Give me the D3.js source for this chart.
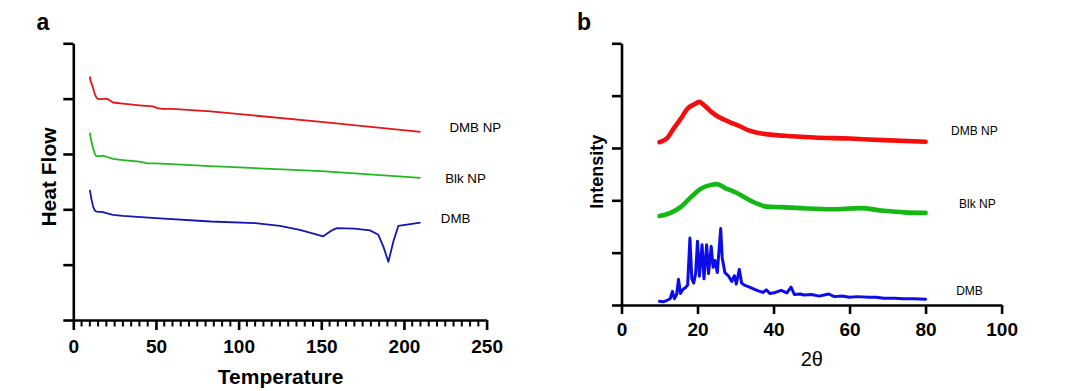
<!DOCTYPE html>
<html><head><meta charset="utf-8">
<script src="https://cdn.jsdelivr.net/npm/d3@7"></script>
<style>
body{margin:0;background:#fff;}
svg{display:block;}
text{font-family:"Liberation Sans",Arial,sans-serif;}
</style></head>
<body>
<svg id="c" width="1079" height="391"></svg>
<script>
// ---------- DATA ----------
// Panel a: DSC (Temperature, Heat Flow arbitrary units)
const dscSeries = ["DMB NP", "Blk NP", "DMB"];
const dscDMBNP = [[10,4.40],[10.5,4.31],[11,4.28],[12,4.19],[13,4.08],[14,4.02],[15,3.99],[17,3.99],[19,4.0],[21,3.99],[24,3.93],[30,3.91],[40,3.88],[48,3.86],[51,3.83],[54,3.815],[60,3.815],[83,3.77],[150,3.58],[210,3.40]];
const dscBlkNP = [[10,3.38],[11,3.22],[12,3.10],[13,3.0],[14,2.96],[16,2.96],[18,2.97],[20,2.95],[24,2.91],[30,2.89],[40,2.86],[45,2.83],[50,2.83],[83,2.78],[150,2.69],[210,2.57]];
const dscDMB = [[10,2.35],[11,2.18],[12,2.05],[13,1.98],[14,1.96],[16,1.955],[18,1.95],[20,1.93],[24,1.90],[30,1.88],[50,1.84],[83,1.78],[110,1.75],[125,1.70],[137,1.63],[148,1.54],[151,1.51],[154,1.57],[157,1.63],[159.5,1.66],[170,1.65],[179.5,1.62],[184.5,1.54],[187.5,1.33],[190.6,1.05],[193.6,1.42],[196.6,1.70],[210,1.76]];
const dscXTicks = [0,50,100,150,200,250];
const dscXMinorTicks = [5,10,15,20,25,30,35,40,45,55,60,65,70,75,80,85,90,95,105,110,115,120,125,130,135,140,145,155,160,165,170,175,180,185,190,195,205,210,215,220,225,230,235,240,245];
const dscYTicks = [0,1,2,3,4,5];

// Panel b: XRD (2theta, Intensity arbitrary units)
const xrdDMBNP = [[10,3.11],[12,3.19],[13.8,3.38],[15.7,3.57],[17.5,3.76],[19.3,3.84],[20.4,3.88],[22,3.80],[23.8,3.68],[25.6,3.59],[28.3,3.50],[31,3.42],[33.7,3.33],[36.4,3.28],[40,3.25],[43.6,3.23],[50.8,3.20],[60,3.18],[69,3.15],[80,3.12]];
const xrdBlkNP = [[10,1.70],[12.9,1.76],[15.7,1.88],[18.4,2.07],[21.1,2.23],[23.3,2.29],[25.1,2.31],[27.4,2.23],[30.1,2.15],[32.8,2.04],[35.5,1.94],[38.2,1.88],[41.8,1.87],[47.3,1.85],[55.4,1.83],[62.6,1.85],[69,1.80],[74.4,1.77],[80,1.76]];
const xrdDMB = [[10,0.07],[11,0.06],[12,0.09],[12.8,0.12],[13.4,0.26],[13.9,0.12],[14.5,0.2],[15.0,0.49],[15.5,0.22],[16.2,0.3],[16.8,0.33],[17.4,0.38],[18.0,1.28],[18.5,0.5],[19.0,0.42],[19.5,0.6],[20.0,1.22],[20.5,0.55],[21.2,1.15],[21.7,0.5],[22.4,1.15],[22.9,0.6],[23.6,1.12],[24.1,0.72],[24.6,0.85],[25.2,0.62],[26.1,1.46],[26.5,0.9],[27.2,0.62],[28.2,0.55],[29.0,0.45],[29.7,0.56],[30.2,0.40],[31.0,0.68],[31.6,0.42],[32.3,0.38],[33,0.36],[34,0.33],[35,0.3],[36,0.27],[37.2,0.24],[38.1,0.29],[39,0.22],[40.5,0.24],[42,0.28],[43.5,0.23],[44.6,0.34],[45.5,0.2],[47,0.21],[48,0.19],[50,0.2],[52,0.17],[54.5,0.21],[56,0.16],[58,0.17],[60,0.15],[62,0.16],[65,0.15],[67,0.15],[69,0.13],[72,0.13],[74,0.12],[77,0.12],[80,0.11]];
const xrdXTicks = [0,20,40,60,80,100];
const xrdYTicks = [0,1,2,3,4,5];

// ---------- DRAW ----------
const svg = d3.select("#c");
const AX = 2.6;

function styleAxis(g){
  g.select(".domain").attr("stroke","#000").attr("stroke-width",AX);
  g.selectAll(".tick line").attr("stroke","#000").attr("stroke-width",AX);
  g.selectAll(".tick text").attr("fill","#000").attr("font-weight","bold")
    .attr("font-family","'Liberation Sans',Arial,sans-serif");
}

// Panel a
const xa = d3.scaleLinear().domain([0,250]).range([73.3,486.6]);
const ya = d3.scaleLinear().domain([0,5]).range([320,43.3]);
const ga = svg.append("g");
ga.selectAll("line.minor").data(dscXMinorTicks).join("line").attr("class","minor")
  .attr("x1",d=>xa(d)).attr("x2",d=>xa(d)).attr("y1",320).attr("y2",326.5)
  .attr("stroke","#000").attr("stroke-width",2);
ga.append("g").attr("transform","translate(0,320)")
  .call(d3.axisBottom(xa).tickValues(dscXTicks).tickSize(10).tickSizeOuter(0).tickPadding(10))
  .call(styleAxis).call(g=>g.selectAll(".tick text").attr("font-size",19));
ga.append("g").attr("transform","translate(73.3,0)")
  .call(d3.axisLeft(ya).tickValues(dscYTicks).tickSize(10).tickSizeOuter(0).tickFormat(""))
  .call(styleAxis);

const linea = d3.line().x(d=>xa(d[0])).y(d=>ya(d[1]));
[[dscDMBNP,"#e3161b"],[dscBlkNP,"#22b822"],[dscDMB,"#1616b0"]].forEach(([d,c])=>{
  ga.append("path").datum(d).attr("d",linea).attr("fill","none").attr("stroke",c)
    .attr("stroke-width",1.8).attr("stroke-linejoin","round");
});
const labA = [[449.4,127.7],[445.2,178],[440.8,218]];
dscSeries.forEach((s,i)=>{
  ga.append("text").attr("x",labA[i][0]).attr("y",labA[i][1]).attr("dy","0.35em")
    .attr("font-size",13.3).text(s);
});
ga.append("text").attr("x",280.6).attr("y",383.5).attr("text-anchor","middle")
  .attr("font-size",21).attr("font-weight","bold").text("Temperature");
ga.append("text").attr("transform","translate(48.2,177) rotate(-90)").attr("dy","0.36em")
  .attr("text-anchor","middle").attr("font-size",21).attr("font-weight","bold").text("Heat Flow");
ga.append("text").attr("x",36.5).attr("y",30).attr("font-size",23).attr("font-weight","bold").text("a");

// Panel b
const xb = d3.scaleLinear().domain([0,100]).range([621.5,1001.6]);
const yb = d3.scaleLinear().domain([0,5]).range([305,43.3]);
const gb = svg.append("g");
gb.append("g").attr("transform","translate(0,305)")
  .call(d3.axisBottom(xb).tickValues(xrdXTicks).tickSize(9).tickSizeOuter(0).tickPadding(9))
  .call(styleAxis).call(g=>g.selectAll(".tick text").attr("font-size",19));
gb.append("g").attr("transform","translate(621.5,0)")
  .call(d3.axisLeft(yb).tickValues(xrdYTicks).tickSize(9.5).tickSizeOuter(0).tickFormat(""))
  .call(styleAxis);

const lineb = d3.line().x(d=>xb(d[0])).y(d=>yb(d[1]));
const lineSmooth = d3.line().x(d=>xb(d[0])).y(d=>yb(d[1])).curve(d3.curveMonotoneX);
[[xrdDMBNP,"#f40d0d",4.6],[xrdBlkNP,"#14b814",4.6]].forEach(([d,c,w])=>{
  gb.append("path").datum(d).attr("d",lineSmooth).attr("fill","none").attr("stroke",c)
    .attr("stroke-width",w).attr("stroke-linejoin","round").attr("stroke-linecap","round");
});
gb.append("path").datum(xrdDMB).attr("d",lineb).attr("fill","none").attr("stroke","#0c0ce8")
  .attr("stroke-width",3).attr("stroke-linejoin","round").attr("stroke-linecap","round");

const labB = [[951,131],[959,204],[956.2,291]];
dscSeries.forEach((s,i)=>{
  gb.append("text").attr("x",labB[i][0]).attr("y",labB[i][1]).attr("dy","0.35em")
    .attr("font-size",12).text(s);
});
gb.append("text").attr("x",811.8).attr("y",365.5).attr("text-anchor","middle")
  .attr("font-size",20).attr("font-family","'Liberation Serif','Times New Roman',serif").text("2θ");
gb.append("text").attr("transform","translate(596.8,171.7) rotate(-90)").attr("dy","0.36em")
  .attr("text-anchor","middle").attr("font-size",18).attr("font-weight","bold").text("Intensity");
gb.append("text").attr("x",577).attr("y",30).attr("font-size",23).attr("font-weight","bold").text("b");
</script>
</body></html>
